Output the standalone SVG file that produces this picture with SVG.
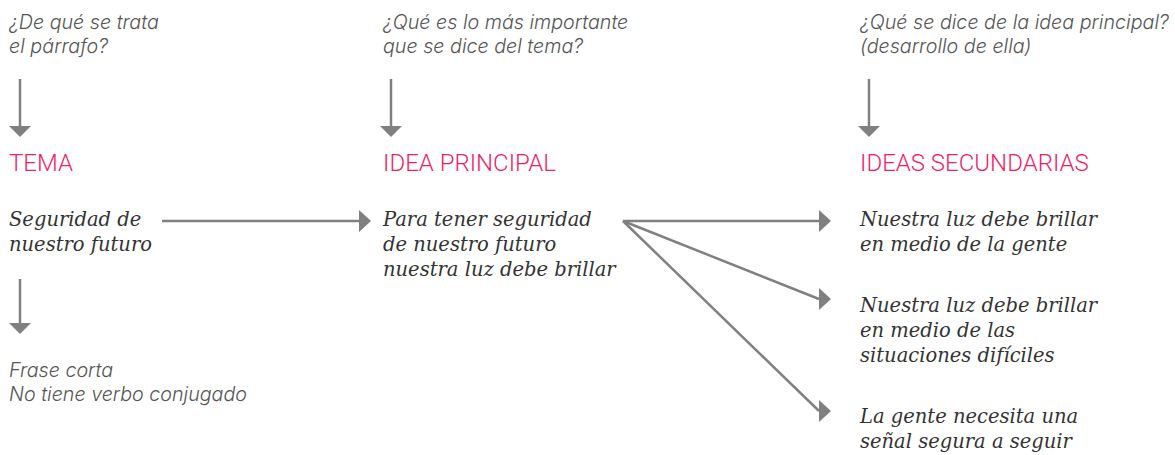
<svg xmlns="http://www.w3.org/2000/svg" width="1175" height="455" viewBox="0 0 1175 455">
<style>
.q{font-family:Inter,Roboto,"Liberation Sans",sans-serif;font-style:italic;font-weight:300;font-size:19.7px;fill:#555}
.h{font-family:Roboto,"Liberation Sans",sans-serif;font-weight:300;font-size:24px;fill:#ec1f68}
.b{font-family:"DejaVu Serif","Liberation Serif",serif;font-style:italic;font-size:19.5px;fill:#333}
.c{stroke:#808080;stroke-width:2.5;fill:none}
</style>
<defs>
<marker id="ad" markerUnits="userSpaceOnUse" markerWidth="22" markerHeight="12" refX="11" refY="0" viewBox="0 0 22 12" orient="0" overflow="visible">
<polygon points="0,0 22,0 11,11" fill="#808080"/>
</marker>
<marker id="ar" markerUnits="userSpaceOnUse" markerWidth="12" markerHeight="22" refX="0" refY="11" viewBox="0 0 12 22" orient="0" overflow="visible">
<polygon points="0,0 12,11 0,22" fill="#808080"/>
</marker>
</defs>
<rect width="1175" height="455" fill="#fff"/>
<g id="q1"><text class="q" x="9" y="29">¿De qué se trata</text><text class="q" x="9" y="53">el párrafo?</text></g>
<g id="q2"><text class="q" x="383" y="29">¿Qué es lo más importante</text><text class="q" x="383" y="53">que se dice del tema?</text></g>
<g id="q3"><text class="q" x="860" y="29">¿Qué se dice de la idea principal?</text><text class="q" x="860" y="53">(desarrollo de ella)</text></g>
<g id="tema"><text class="h" x="9" y="171">TEMA</text></g>
<g id="idea"><text class="h" x="383" y="171">IDEA PRINCIPAL</text></g>
<g id="secund"><text class="h" x="860" y="171">IDEAS SECUNDARIAS</text></g>
<g id="tema-t"><text class="b" x="9" y="226">Seguridad de</text><text class="b" x="9" y="251">nuestro futuro</text></g>
<g id="idea-t"><text class="b" x="383" y="226">Para tener seguridad</text><text class="b" x="383" y="251">de nuestro futuro</text><text class="b" x="383" y="276">nuestra luz debe brillar</text></g>
<g id="frase"><text class="q" x="9" y="377">Frase corta</text><text class="q" x="9" y="401">No tiene verbo conjugado</text></g>
<g id="s1"><text class="b" x="860" y="226">Nuestra luz debe brillar</text><text class="b" x="860" y="251">en medio de la gente</text></g>
<g id="s2"><text class="b" x="860" y="312">Nuestra luz debe brillar</text><text class="b" x="860" y="337">en medio de las</text><text class="b" x="860" y="362">situaciones difíciles</text></g>
<g id="s3"><text class="b" x="860" y="423">La gente necesita una</text><text class="b" x="860" y="448">señal segura a seguir</text></g>
<g id="connectors">
<line class="c" x1="20" y1="79" x2="20" y2="126" marker-end="url(#ad)"/>
<line class="c" x1="391" y1="79" x2="391" y2="126" marker-end="url(#ad)"/>
<line class="c" x1="869" y1="79" x2="869" y2="126" marker-end="url(#ad)"/>
<line class="c" x1="20" y1="279" x2="20" y2="323" marker-end="url(#ad)"/>
<line class="c" x1="162" y1="221" x2="359" y2="221" marker-end="url(#ar)"/>
<line class="c" x1="623" y1="221" x2="819" y2="221" marker-end="url(#ar)"/>
<line class="c" x1="623" y1="221" x2="819" y2="299" marker-end="url(#ar)"/>
<line class="c" x1="623" y1="221" x2="819" y2="411" marker-end="url(#ar)"/>
</g>
</svg>
